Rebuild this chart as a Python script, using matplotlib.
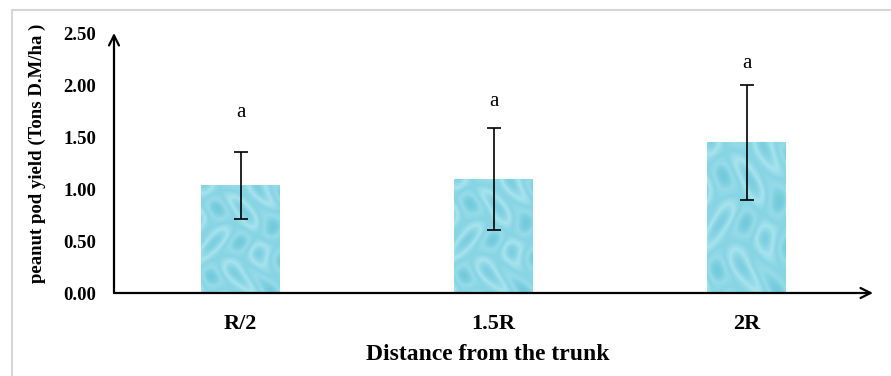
import numpy as np
import matplotlib
matplotlib.use("Agg")
from matplotlib import pyplot as plt
from matplotlib.colors import LinearSegmentedColormap

plt.rcParams['font.family'] = ['Liberation Serif', 'DejaVu Serif']

# data
categories = ['R/2', '1.5R', '2R']
yields = [1.04, 1.10, 1.45]
err_low = [0.33, 0.49, 0.56]
err_high = [0.32, 0.49, 0.55]
letters = ['a', 'a', 'a']
letter_y = [1.74, 1.84, 2.21]
yticks = [0.0, 0.5, 1.0, 1.5, 2.0, 2.5]

fig = plt.figure(figsize=(8.91, 3.76), dpi=100)

# light grey frame around the figure (top and left only visible)
fig.add_artist(plt.Line2D([11.5/891, 1.0], [1 - 9.5/376] * 2, color='#d6d6d6', lw=1.5))
fig.add_artist(plt.Line2D([11.5/891] * 2, [0.0, 1 - 9.5/376], color='#d6d6d6', lw=1.5))

ax = fig.add_axes([114/891, 83/376, 759/891, 260/376])
x = np.arange(len(categories))
bars = ax.bar(x, yields, width=0.31, color='#8fd8e6', zorder=1)

# soft water-like texture inside the bars
cmap = LinearSegmentedColormap.from_list('water', ['#6cc8da', '#98dcea', '#86d4e4', '#ade6f0', '#78cde0'])
gx, gy = np.meshgrid(np.linspace(0, 6, 120), np.linspace(0, 8, 200))
tex = np.sin(gx * 1.6 + np.cos(gy * 1.1)) * np.cos(gy * 1.3 + np.sin(gx * 0.8))
for b in bars:
    im = ax.imshow(tex, cmap=cmap, aspect='auto', alpha=0.85,
                   extent=[b.get_x(), b.get_x() + b.get_width(), 0, b.get_height()],
                   zorder=1.5)
    im.set_clip_path(b)

ax.errorbar(x, yields, yerr=[err_low, err_high], fmt='none', ecolor='black',
            elinewidth=1.2, capsize=5, capthick=1.2, zorder=3)

for xi, yl, t in zip(x, letter_y, letters):
    ax.text(xi, yl, t, ha='center', va='center', fontsize=15)

ax.set_xlim(-0.5, 2.5)
ax.set_ylim(0, 2.5)
ax.set_xticks(x)
ax.set_xticklabels(categories, fontsize=16, fontweight='bold')
ax.set_yticks(yticks)
ax.set_yticklabels(['%.2f' % v for v in yticks], fontsize=13.5, fontweight='bold')
ax.tick_params(axis='both', length=0)
ax.tick_params(axis='y', pad=13)
ax.tick_params(axis='x', pad=15)
for s in ax.spines.values():
    s.set_visible(False)

# axes drawn as arrows
ax.annotate('', xy=(1.0, 0), xytext=(0, 0), xycoords='axes fraction',
            arrowprops=dict(arrowstyle='->', lw=1.6, color='black', mutation_scale=18,
                            shrinkA=0, shrinkB=0))
ax.annotate('', xy=(0, 1.0), xytext=(0, 0), xycoords='axes fraction',
            arrowprops=dict(arrowstyle='->', lw=1.6, color='black', mutation_scale=18,
                            shrinkA=0, shrinkB=0))

ax.set_xlabel('Distance from the trunk', fontsize=17, fontweight='bold')
ax.xaxis.set_label_coords(0.492, -0.235)
ax.xaxis.label.set_va('center')
fig.text(37/891, 1 - 153/376, 'peanut pod yield (Tons D.M/ha )', rotation=90,
         ha='center', va='center', fontsize=13.5, fontweight='bold')

fig.savefig('out.png', dpi=100)
